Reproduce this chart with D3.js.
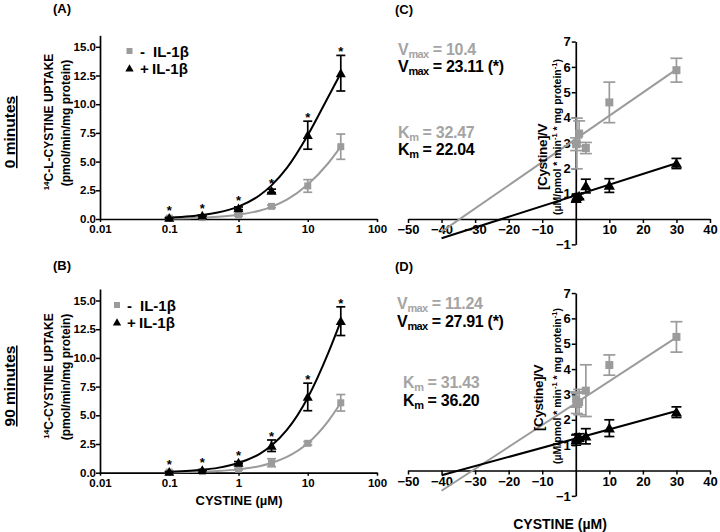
<!DOCTYPE html>
<html><head><meta charset="utf-8">
<script src="https://cdn.jsdelivr.net/npm/d3@7/dist/d3.min.js"></script>
<style>
body{margin:0;background:#fff;}
svg{font-family:"Liberation Sans",Arial,Helvetica,sans-serif;font-weight:bold;}
</style></head><body>
<svg id="chart" width="720" height="532"></svg>
<script>
// ---------- data ----------
const conc = [0.1, 0.3, 1, 3, 10, 30];
const logTicks = [0.01, 0.1, 1, 10, 100];
const logTickLabels = ["0.01", "0.1", "1", "10", "100"];
const uptakeTicks = [0, 2.5, 5, 7.5, 10, 12.5, 15];
const lbTicksX = [-50, -40, -30, -20, -10, 10, 20, 30, 40];
const lbTicksY = [-1, 1, 2, 3, 4, 5, 6, 7];
const fitX = [0.1, 0.2, 0.3, 0.5, 1, 2, 3, 5, 10, 20, 30];
const legendLabels = ["IL-1\u03b2", "IL-1\u03b2"];
const legendSigns = ["-", "+"];

// Panel A (0 min, uptake)
const aMinus    = [0.08, 0.12, 0.35, 1.1, 2.88, 6.3];
const aMinusErr = [0.03, 0.04, 0.1, 0.12, 0.55, 1.1];
const aPlus     = [0.1, 0.3, 0.93, 2.45, 7.3, 12.7];
const aPlusErr  = [0.04, 0.06, 0.12, 0.15, 1.22, 1.55];
const aMinusFit = [0.04, 0.076, 0.11, 0.19, 0.37, 0.72, 1.06, 1.68, 3.0, 4.9, 6.3];
const aPlusFit  = [0.11, 0.23, 0.34, 0.56, 1.08, 2.05, 2.93, 4.45, 7.3, 10.7, 12.7];

// Panel B (90 min, uptake)
const bMinus    = [0.05, 0.1, 0.3, 0.87, 2.56, 6.09];
const bMinusErr = [0.03, 0.04, 0.08, 0.35, 0.15, 0.72];
const bPlus     = [0.07, 0.22, 0.87, 2.35, 6.6, 13.2];
const bPlusErr  = [0.04, 0.05, 0.1, 0.5, 1.2, 1.25];
const bMinusFit = [0.03, 0.059, 0.088, 0.146, 0.29, 0.57, 0.85, 1.37, 2.56, 4.54, 6.09];
const bPlusFit  = [0.086, 0.17, 0.26, 0.42, 0.84, 1.62, 2.36, 3.72, 6.53, 10.5, 13.2];

// Panel C (0 min, Hanes-Woolf)
const cMinus    = [2.95, 2.98, 3.37, 2.8, 4.6, 5.87];
const cMinusErr = [0.25, 1.0, 0.5, 0.22, 0.8, 0.47];
const cPlus     = [0.8, 0.88, 0.9, 1.3, 1.32, 2.19];
const cPlusErr  = [0.12, 0.1, 0.1, 0.27, 0.27, 0.2];
const lineX = [-40, 30];
const cMinusLine = [-0.5, 5.9];
const cPlusLine  = [-0.76, 2.2];

// Panel D (90 min, Hanes-Woolf)
const dMinus    = [2.8, 2.65, 2.7, 3.15, 4.16, 5.27];
const dMinusErr = [0.3, 0.4, 0.5, 1.02, 0.4, 0.6];
const dPlus     = [1.2, 1.28, 1.3, 1.35, 1.67, 2.3];
const dPlusErr  = [0.2, 0.15, 0.15, 0.3, 0.33, 0.21];
const dMinusLine = [-0.8, 5.25];
const dPlusLine  = [-0.19, 2.35];

// ---------- styles ----------
const GRAY = "#9b9b9b", GRAYTXT = "#a4a4a4", BLACK = "#000";
const svg = d3.select("#chart");

function styleAxis(g, fs) {
  g.selectAll("path.domain").attr("stroke", BLACK).attr("stroke-width", 1.7);
  g.selectAll(".tick line").attr("stroke", BLACK).attr("stroke-width", 1.5);
  g.selectAll(".tick text").attr("fill", BLACK).attr("font-size", fs)
    .attr("font-weight", "bold").attr("font-family", '"Liberation Sans",Arial,sans-serif');
}

function triPath(size) {
  return d3.symbol().type(d3.symbolTriangle).size(size)();
}

function drawPoints(x, y, xs, vals, errs, color, kind, cap, msize) {
  const g = svg.append("g");
  xs.forEach((s, i) => {
    const px = x(s), v = vals[i], e = errs[i];
    g.append("line").attr("x1", px).attr("x2", px)
      .attr("y1", y(v - e)).attr("y2", y(v + e))
      .attr("stroke", color).attr("stroke-width", 1.7);
    [v - e, v + e].forEach(t => g.append("line")
      .attr("x1", px - cap / 2).attr("x2", px + cap / 2)
      .attr("y1", y(t)).attr("y2", y(t))
      .attr("stroke", color).attr("stroke-width", 1.7));
    if (kind === "sq") {
      g.append("rect").attr("x", px - msize / 2).attr("y", y(v) - msize / 2)
        .attr("width", msize).attr("height", msize).attr("fill", color);
    } else {
      g.append("path").attr("d", triPath(msize * msize * 0.55))
        .attr("transform", `translate(${px},${y(v) + 1})`).attr("fill", color);
    }
  });
}

function drawStars(x, y, xs, vals, errs) {
  xs.forEach((s, i) => {
    const top = Math.min(y(vals[i] + errs[i]), y(vals[i]) - 4);
    svg.append("text").attr("x", x(s)).attr("y", top + 1)
      .attr("text-anchor", "middle").attr("font-size", 13).text("*");
  });
}

function vText(x, y, parts, anchor) {
  const t = svg.append("text").attr("transform", `translate(${x},${y}) rotate(-90)`)
    .attr("text-anchor", anchor || "middle");
  parts.forEach(p => {
    const ts = t.append("tspan").text(p.t).attr("font-size", p.fs);
    if (p.dy) ts.attr("dy", p.dy);
  });
  return t;
}

function kinText(x, y, main, sub, rest, color, mainFs) {
  const t = svg.append("text").attr("x", x).attr("y", y).attr("fill", color)
    .attr("font-size", mainFs).attr("letter-spacing", -0.3);
  t.append("tspan").text(main);
  t.append("tspan").text(sub).attr("font-size", 11).attr("dy", 3).attr("letter-spacing", -0.6);
  t.append("tspan").text(rest).attr("dy", -3);
}

// ---------- uptake panels (A, B) ----------
function uptakePanel(y0, minus, minusErr, plus, plusErr, minusFit, plusFit, legend) {
  const x = d3.scaleLog().domain([0.01, 100]).range([100, 377]);
  const y = d3.scaleLinear().domain([0, 16]).range([y0, y0 - 16 * 11.48]);
  const gx = svg.append("g").attr("transform", `translate(0,${y0})`)
    .call(d3.axisBottom(x).tickValues(logTicks).tickFormat((d, i) => logTickLabels[i])
      .tickSize(3).tickSizeOuter(0).tickPadding(3));
  styleAxis(gx, 11.5);
  const gy = svg.append("g").attr("transform", `translate(100,0)`)
    .call(d3.axisLeft(y).tickValues(uptakeTicks).tickFormat(d3.format(".1f"))
      .tickSize(4).tickSizeOuter(0).tickPadding(0));
  styleAxis(gy, 11.5);

  const line = d3.line().x((d, i) => x(fitX[i])).y(d => y(d)).curve(d3.curveMonotoneX);
  svg.append("path").attr("d", line(minusFit)).attr("fill", "none")
    .attr("stroke", GRAY).attr("stroke-width", 2);
  svg.append("path").attr("d", line(plusFit)).attr("fill", "none")
    .attr("stroke", BLACK).attr("stroke-width", 2);

  drawPoints(x, y, conc, minus, minusErr, GRAY, "sq", 9, 7);
  drawPoints(x, y, conc, plus, plusErr, BLACK, "tri", 9, 9);
  drawStars(x, y, conc, plus, plusErr);

  const L = legend;
  svg.append("rect").attr("x", L.mx - 3).attr("y", L.y1 - 9).attr("width", 6).attr("height", 6).attr("fill", GRAY);
  svg.append("path").attr("d", triPath(30)).attr("transform", `translate(${L.mx},${L.y2 - 5})`).attr("fill", BLACK);
  svg.append("text").attr("x", L.sx).attr("y", L.y1).attr("font-size", 15).text(legendSigns[0]);
  svg.append("text").attr("x", L.sx + 13).attr("y", L.y1).attr("font-size", 15).text(legendLabels[0]);
  svg.append("text").attr("x", L.sx).attr("y", L.y2).attr("font-size", 15).text(legendSigns[1]);
  svg.append("text").attr("x", L.sx + 12).attr("y", L.y2).attr("font-size", 15).text(legendLabels[1]);
}

// ---------- Hanes-Woolf panels (C, D) ----------
function hwPanel(y0, minus, minusErr, plus, plusErr, minusLine, plusLine) {
  const x = d3.scaleLinear().domain([-50, 40]).range([408, 710]);
  const y = d3.scaleLinear().domain([-1, 7]).range([y0 + 25.35, y0 - 7 * 25.35]);
  const gx = svg.append("g").attr("transform", `translate(0,${y0})`)
    .call(d3.axisBottom(x).tickValues(lbTicksX).tickFormat(d3.format("d"))
      .tickSize(4).tickSizeOuter(0).tickPadding(2));
  styleAxis(gx, 13);
  const gy = svg.append("g").attr("transform", `translate(${x(0)},0)`)
    .call(d3.axisLeft(y).tickValues(lbTicksY).tickFormat(d3.format("d"))
      .tickSize(4).tickSizeOuter(0).tickPadding(1));
  styleAxis(gy, 13);

  const line = d3.line().x((d, i) => x(lineX[i])).y(d => y(d));
  svg.append("path").attr("d", line(minusLine)).attr("fill", "none")
    .attr("stroke", GRAY).attr("stroke-width", 2);
  svg.append("path").attr("d", line(plusLine)).attr("fill", "none")
    .attr("stroke", BLACK).attr("stroke-width", 2);

  drawPoints(x, y, conc, minus, minusErr, GRAY, "sq", 12, 8);
  drawPoints(x, y, conc, plus, plusErr, BLACK, "tri", 10, 10);
}

uptakePanel(219, aMinus, aMinusErr, aPlus, aPlusErr, aMinusFit, aPlusFit,
  {mx: 129.5, sx: 140, y1: 57, y2: 74});
uptakePanel(472.7, bMinus, bMinusErr, bPlus, bPlusErr, bMinusFit, bPlusFit,
  {mx: 117, sx: 127, y1: 311, y2: 328});
hwPanel(219, cMinus, cMinusErr, cPlus, cPlusErr, cMinusLine, cPlusLine);
hwPanel(470.5, dMinus, dMinusErr, dPlus, dPlusErr, dMinusLine, dPlusLine);

// ---------- texts ----------
[["(A)", 53, 13], ["(C)", 395, 14], ["(B)", 53, 270], ["(D)", 395, 271]].forEach(d =>
  svg.append("text").attr("x", d[1]).attr("y", d[2]).attr("font-size", 13).text(d[0]));

[["0 minutes", 132], ["90 minutes", 386]].forEach(d => {
  vText(15, d[1], [{t: d[0], fs: 15.5}]).attr("text-decoration", "underline");
});

vText(53, 122, [{t: "14", fs: 8, dy: -4}, {t: "C-L-CYSTINE UPTAKE", fs: 12, dy: 4}]);
vText(70, 123, [{t: "(pmol/min/mg protein)", fs: 12}]);
vText(53, 376, [{t: "14", fs: 8, dy: -4}, {t: "C-CYSTINE UPTAKE", fs: 12, dy: 4}]);
vText(70, 377, [{t: "(pmol/min/mg protein)", fs: 12}]);

function hwTitle(x1, c1, c2) {
  vText(x1, c1, [{t: "[Cystine]/V", fs: 13.5}]).attr("letter-spacing", -0.4);
  vText(561, c2, [{t: "(\u00b5M/pmol * min", fs: 10.5}, {t: "-1", fs: 7.5, dy: -4},
    {t: " * mg protein", fs: 10.5, dy: 4}, {t: "-1", fs: 7.5, dy: -4}, {t: ")", fs: 10.5, dy: 4}]);
}
hwTitle(547, 157, 137);
hwTitle(543, 398, 386);

svg.append("text").attr("x", 239).attr("y", 505).attr("text-anchor", "middle")
  .attr("font-size", 13).text("CYSTINE (\u00b5M)");
svg.append("text").attr("x", 560).attr("y", 529).attr("text-anchor", "middle")
  .attr("font-size", 14).text("CYSTINE (\u00b5M)");

kinText(398, 55, "V", "max", " = 10.4", GRAYTXT, 16);
kinText(398, 72, "V", "max", " = 23.11 (*)", BLACK, 16);
kinText(398, 138, "K", "m", " = 32.47", GRAYTXT, 16);
kinText(398, 155, "K", "m", " = 22.04", BLACK, 16);
kinText(397, 309, "V", "max", " = 11.24", GRAYTXT, 16);
kinText(397, 327, "V", "max", " = 27.91 (*)", BLACK, 16);
kinText(403, 388, "K", "m", " = 31.43", GRAYTXT, 16);
kinText(403, 406, "K", "m", " = 36.20", BLACK, 16);
</script>
</body></html>
